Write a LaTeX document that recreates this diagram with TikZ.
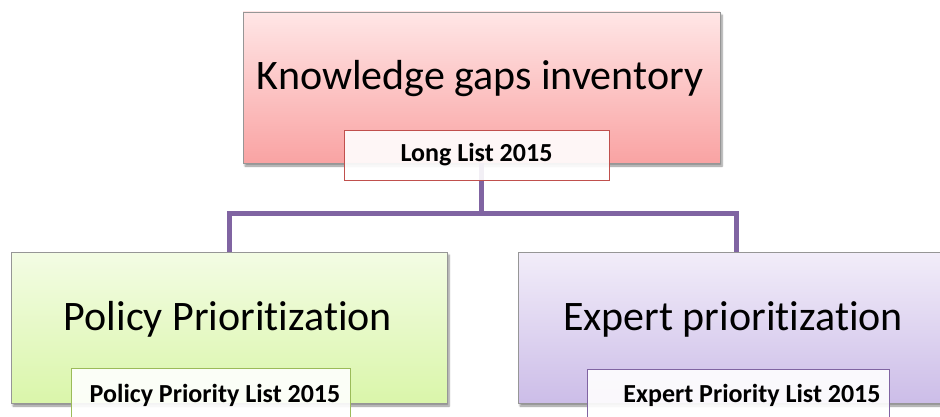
\documentclass[tikz,border=0pt]{standalone}
\usepackage{fontspec}
\setmainfont{Carlito}[RawFeature={-liga}]
\usetikzlibrary{shadows.blur}

\definecolor{linkpurple}{RGB}{128,100,162}
\definecolor{redtop}{RGB}{255,230,230}
\definecolor{redbot}{RGB}{249,163,163}
\definecolor{greentop}{RGB}{243,252,228}
\definecolor{greenbot}{RGB}{218,246,170}
\definecolor{purptop}{RGB}{242,237,249}
\definecolor{purpbot}{RGB}{204,189,232}
\definecolor{boxline}{RGB}{150,150,150}
\definecolor{tagred}{RGB}{192,80,77}
\definecolor{taggreen}{RGB}{155,187,89}
\definecolor{tagpurple}{RGB}{128,100,162}

\tikzset{
  mainbox/.style={draw=boxline, line width=0.8pt, minimum width=436pt,
    minimum height=151pt, inner sep=0pt,
    blur shadow={shadow xshift=2pt, shadow yshift=-3pt, shadow blur steps=6,
      shadow opacity=45}},
  tagbox/.style={draw, line width=0.8pt, fill=white, fill opacity=0.9,
    text opacity=1, minimum height=50pt, inner sep=0pt},
  bigtext/.style={font=\fontsize{42}{44}\selectfont, anchor=base, inner sep=0pt},
  tagtext/.style={font=\fontsize{26}{28}\selectfont\bfseries, anchor=base, inner sep=0pt},
  link/.style={draw=linkpurple, line width=5pt}
}

\begin{document}
\begin{tikzpicture}[x=1pt, y=-1pt]
\useasboundingbox (0,0) rectangle (940,417);
\clip (0,0) rectangle (940,417);

% top box
\node[mainbox, minimum width=477pt, top color=redtop, bottom color=redbot]
  (inv) at (481.5,87.5) {};
\node[bigtext] (invtxt) at (480,90) {Knowledge gaps inventory};

% lower boxes
\node[mainbox, top color=greentop, bottom color=greenbot] (pol) at (229,327.5) {};
\node[bigtext] (poltxt) at (228,330) {Policy Prioritization};
\node[mainbox, top color=purptop, bottom color=purpbot] (exp) at (736,327.5) {};
\node[bigtext] (exptxt) at (733,330) {Expert prioritization};

% connectors
\coordinate (hub) at (481,213);
\draw[link] (inv.south -| hub) -- (hub);
\draw[link] (hub) -| (pol.north);
\draw[link] (hub) -| (exp.north);

% list tags
\node[tagbox, draw=tagred, minimum width=265pt] (longl) at (476.5,155) {};
\node[tagtext] (longltxt) at (476.5,162) {Long List 2015};
\node[tagbox, draw=taggreen, minimum width=279pt] (poll) at (210.5,393) {};
\node[tagtext] (pollltxt) at (215,402) {Policy Priority List 2015};
\node[tagbox, draw=tagpurple, minimum width=302pt] (expl) at (738,394) {};
\node[tagtext] (expltxt) at (752,402) {Expert Priority List 2015};
\end{tikzpicture}
\end{document}
